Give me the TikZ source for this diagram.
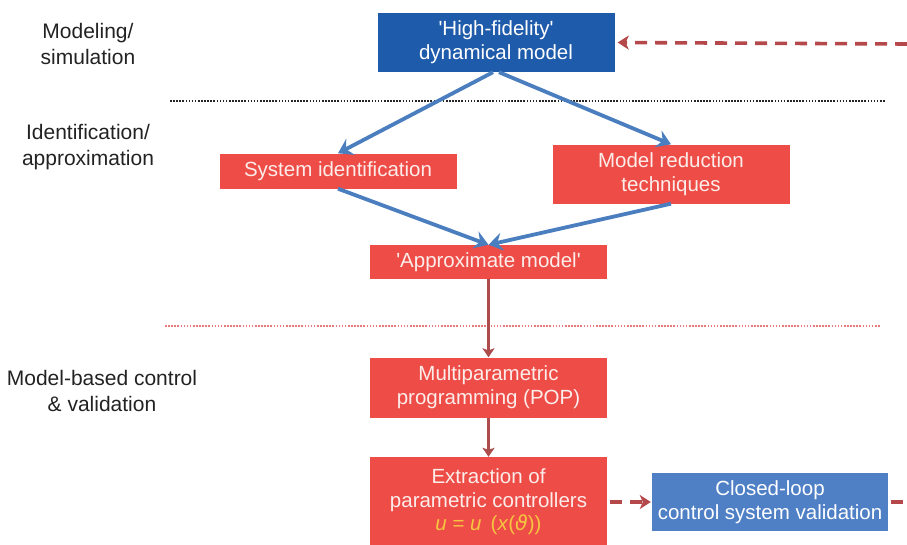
\documentclass[tikz,border=0pt]{standalone}
\usepackage{fontspec}
\setmainfont{Liberation Sans}
\newfontfamily\greekfont{DejaVu Sans}
\usetikzlibrary{arrows.meta}

\definecolor{deepblue}{HTML}{1E5BAA}
\definecolor{softblue}{HTML}{4F80C6}
\definecolor{linkblue}{HTML}{4A7EBF}
\definecolor{boxred}{HTML}{EE4D47}
\definecolor{flowred}{HTML}{AC4D4C}
\definecolor{dashred}{HTML}{B5484A}
\definecolor{dotred}{HTML}{E77A78}
\definecolor{paletxt}{HTML}{FCECEA}
\definecolor{formula}{HTML}{F6C440}
\definecolor{labeltxt}{HTML}{222222}

\newcommand{\sq}{\textquotesingle}

\tikzset{
  box/.style={rectangle, inner sep=0pt, align=center, text=paletxt,
    minimum width=237pt, font=\fontsize{20.5}{24}\selectfont},
  redbox/.style={box, fill=boxred},
  darkbox/.style={box, fill=deepblue, text=white},
  lightbox/.style={box, fill=softblue, text=white},
  phase/.style={align=center, text=labeltxt, font=\fontsize{21}{26.5}\selectfont},
  bluelink/.style={draw=linkblue, line width=3.8pt,
    -{Stealth[length=14pt,width=18pt,inset=5pt]}},
  redlink/.style={draw=flowred, line width=3pt,
    -{Stealth[length=9pt,width=12pt,inset=2pt]}},
  dashline/.style={draw=dashred, line width=3.6pt, dash pattern=on 12pt off 8pt},
  feedback/.style={dashline, -{Stealth[length=11pt,width=14pt,inset=3pt]}},
  separator/.style={line width=2.8pt, dash pattern=on 1.6pt off 1.5pt}
}

\begin{document}
\begin{tikzpicture}[x=1pt,y=-1pt]
\useasboundingbox (0,0) rectangle (907,544);

% phase labels on the left
\node[phase] (lblmodel) at (88,44) {Modeling/\\simulation};
\node[phase] (lblident) at (88,147) {Identification/\\approximation};
\node[phase] (lblctrl)  at (102,391) {Model-based control\\\& validation};

% dotted separators between the phases
\coordinate (sepAl) at (170,101);
\coordinate (sepAr) at (885,101);
\coordinate (sepBl) at (165,326);
\coordinate (sepBr) at (880,326);
\draw[separator, black!85] (sepAl) -- (sepAr);
\draw[separator, dotred] (sepBl) -- (sepBr);

% boxes
\node[darkbox, minimum height=59pt] (hifi) at (496,42.5)
  {\sq High-fidelity\sq\\dynamical model};
\node[redbox, minimum height=35pt] (sysid) at (338,171)
  {System identification};
\node[redbox, minimum height=59pt] (reduce) at (671,174)
  {Model reduction\\techniques};
\node[redbox, minimum height=34pt] (approx) at (488.5,262)
  {\sq Approximate model\sq};
\node[redbox, minimum height=60pt] (mpp) at (488.5,387.5)
  {Multiparametric\\programming (POP)};
\node[redbox, minimum height=90pt] (extract) at (488.5,502)
  {Extraction of\\parametric controllers\\[-1pt]
   \textcolor{formula}{\textit{u} = \textit{u}\, (\textit{x}({\greekfont\itshape ϑ}))}};
\node[lightbox, minimum width=236pt, minimum height=58pt] (closed) at (770,502)
  {Closed-loop\\control system validation};

% connectors
\draw[bluelink] ([xshift=-3pt]hifi.south) -- (sysid.north);
\draw[bluelink] ([xshift=3pt]hifi.south) -- (reduce.north);
\draw[bluelink] (sysid.south) -- (approx.north);
\draw[bluelink] (reduce.south) -- (approx.north);
\draw[redlink] (approx.south) -- (mpp.north);
\draw[redlink] (mpp.south) -- (extract.north);
\draw[feedback] ([xshift=3pt]extract.east) -- ([xshift=-1pt]closed.west);

% loop returning to the top model
\coordinate (loopin) at (907,44);
\coordinate (loopout) at (907,502);
\draw[feedback] (loopin) -- ([xshift=3pt]hifi.east);
\draw[dashline] ([xshift=3pt]closed.east) -- (loopout);
\end{tikzpicture}
\end{document}
